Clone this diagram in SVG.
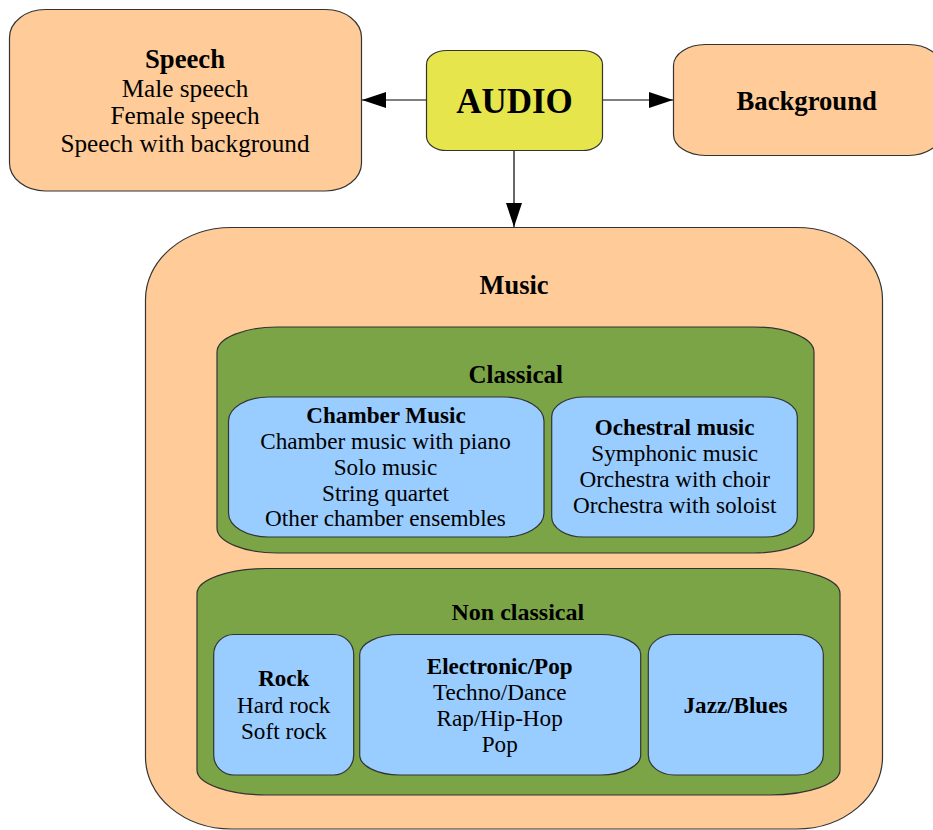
<svg xmlns="http://www.w3.org/2000/svg" width="933" height="830" viewBox="0 0 933 830">
  <style>
    .box { stroke: #333333; stroke-width: 1.2; }
    .peach { fill: #ffcc99; }
    .yellow { fill: #e6e64c; }
    .green { fill: #7ba446; }
    .blue { fill: #99ccff; }
    text { font-family: "Liberation Serif", "Times New Roman", serif; fill: #000000; text-anchor: middle; }
    .b { font-weight: bold; }
    .edge { stroke: #000000; stroke-width: 1.2; fill: none; }
  </style>
  <defs>
    <marker id="arrow" viewBox="0 0 24 16" refX="24" refY="8" markerWidth="24" markerHeight="16" markerUnits="userSpaceOnUse" orient="auto">
      <path d="M0,0 L24,8 L0,16 Z" fill="#000000"/>
    </marker>
  </defs>

  <rect width="933" height="830" fill="#ffffff"/>

  <!-- connectors -->
  <g id="connectors">
    <line class="edge" x1="426" y1="100" x2="362" y2="100" marker-end="url(#arrow)"/>
    <line class="edge" x1="603" y1="100" x2="673" y2="100" marker-end="url(#arrow)"/>
    <line class="edge" x1="514" y1="151" x2="514" y2="227" marker-end="url(#arrow)"/>
  </g>

  <g id="speech">
    <rect class="box peach" x="9.5" y="9.5" width="352" height="181.5" rx="36" ry="28"/>
    <text class="b" x="185" y="68" font-size="26.7">Speech</text>
    <text x="185" y="96.5" font-size="25.2">Male speech</text>
    <text x="185" y="124.2" font-size="25.2">Female speech</text>
    <text x="185" y="151.8" font-size="25.2">Speech with background</text>
  </g>

  <g id="audio">
    <rect class="box yellow" x="426.5" y="50.5" width="176" height="100" rx="20" ry="14"/>
    <text class="b" x="514.5" y="112.7" font-size="35">AUDIO</text>
  </g>

  <g id="background">
    <rect class="box peach" x="673.5" y="44.5" width="267" height="111" rx="32" ry="21"/>
    <text class="b" x="806.7" y="110" font-size="26.7">Background</text>
  </g>

  <g id="music">
    <rect class="box peach" x="145.5" y="227.5" width="737" height="601.5" rx="86" ry="72"/>
    <text class="b" x="514" y="294" font-size="26.4">Music</text>
  </g>

  <g id="classical">
    <rect class="box green" x="217" y="327" width="597" height="226" rx="60" ry="25"/>
    <text class="b" x="515.8" y="382.7" font-size="25">Classical</text>
  </g>

  <g id="chamber">
    <rect class="box blue" x="228.5" y="397" width="315.5" height="140" rx="40" ry="24"/>
    <text class="b" x="386" y="422.7" font-size="23.1">Chamber Music</text>
    <text x="385.5" y="448.7" font-size="23.2">Chamber music with piano</text>
    <text x="385.5" y="474.7" font-size="23.2">Solo music</text>
    <text x="385.5" y="500.7" font-size="23.2">String quartet</text>
    <text x="385.5" y="526.2" font-size="23.2">Other chamber ensembles</text>
  </g>

  <g id="orchestral">
    <rect class="box blue" x="551.7" y="397" width="245.6" height="140" rx="32" ry="20"/>
    <text class="b" x="674.7" y="435" font-size="23.1">Ochestral music</text>
    <text x="674.7" y="460.7" font-size="23.2">Symphonic music</text>
    <text x="674.7" y="486.7" font-size="23.2">Orchestra with choir</text>
    <text x="674.7" y="512.7" font-size="23.2">Orchestra with soloist</text>
  </g>

  <g id="non-classical">
    <rect class="box green" x="197" y="568.5" width="643" height="226.5" rx="70" ry="25"/>
    <text class="b" x="517.8" y="620" font-size="24">Non classical</text>
  </g>

  <g id="rock">
    <rect class="box blue" x="213.7" y="634.5" width="140" height="140.5" rx="20" ry="20"/>
    <text class="b" x="283.8" y="686" font-size="23.1">Rock</text>
    <text x="283.8" y="712.7" font-size="23.2">Hard rock</text>
    <text x="283.8" y="739" font-size="23.2">Soft rock</text>
  </g>

  <g id="electronic-pop">
    <rect class="box blue" x="359.7" y="634.5" width="281" height="140.5" rx="40" ry="20"/>
    <text class="b" x="499.7" y="674" font-size="23.1">Electronic/Pop</text>
    <text x="499.7" y="700" font-size="23.2">Techno/Dance</text>
    <text x="499.7" y="725.7" font-size="23.2">Rap/Hip-Hop</text>
    <text x="499.7" y="751.7" font-size="23.2">Pop</text>
  </g>

  <g id="jazz-blues">
    <rect class="box blue" x="648.3" y="634.5" width="175" height="140.5" rx="26" ry="20"/>
    <text class="b" x="735.5" y="712.7" font-size="23.1">Jazz/Blues</text>
  </g>
</svg>
